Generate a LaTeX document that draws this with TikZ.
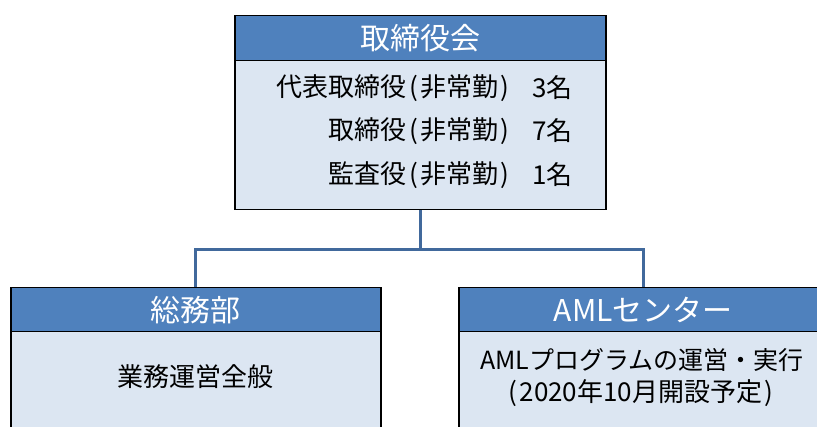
\documentclass[tikz,border=0pt]{standalone}
\usepackage{fontspec}
\setmainfont{Noto Sans CJK JP}
\definecolor{headblue}{HTML}{4F81BD}
\definecolor{bodyblue}{HTML}{DCE6F2}
\definecolor{linkblue}{HTML}{41699C}
\newcommand{\lp}{\hspace{3pt}(\hspace{2pt}}
\newcommand{\rp}{\hspace{2pt})}
\begin{document}
\begin{tikzpicture}[x=1pt,y=-1pt,
  head/.style={draw=black,line width=1.5pt,fill=headblue,text=white,inner sep=0pt,
    minimum height=#1,font=\fontsize{30}{34}\selectfont},
  body/.style={draw=black,line width=1.5pt,fill=bodyblue,inner sep=0pt},
  txt/.style={inner sep=0pt,font=\fontsize{26}{30}\selectfont},
  link/.style={draw=linkblue,line width=3pt}]
\useasboundingbox (0,0) rectangle (817,427);
\clip (0,0) rectangle (817,427);
% top box
\node[body,minimum width=371pt,minimum height=149pt,anchor=north west] (topbody) at (234,60) {};
\node[head=45pt,minimum width=371pt,anchor=north west] (tophead) at (234,15) {取締役会};
\node[txt,anchor=east] (r1a) at (509,88) {代表取締役\lp 非常勤\rp};
\node[txt,anchor=west] (r1b) at (532,88) {3名};
\node[txt,anchor=east] (r2a) at (509,131) {取締役\lp 非常勤\rp};
\node[txt,anchor=west] (r2b) at (532,131) {7名};
\node[txt,anchor=east] (r3a) at (509,175) {監査役\lp 非常勤\rp};
\node[txt,anchor=west] (r3b) at (532,175) {1名};
% left box
\node[body,minimum width=370pt,minimum height=110pt,anchor=north west] (leftbody) at (10,331) {};
\node[head=44pt,minimum width=370pt,anchor=north west] (lefthead) at (10,287) {総務部};
\node[txt] (lefttxt) at (195,377) {業務運営全般};
% right box
\node[body,minimum width=369pt,minimum height=110pt,anchor=north west] (rightbody) at (458,331) {};
\node[head=44pt,minimum width=369pt,anchor=north west] (righthead) at (458,287) {AMLセンター};
\node[txt,font=\fontsize{25}{30}\selectfont] (righttxt1) at (642,360) {AMLプログラムの運営・実行};
\node[txt] (righttxt2) at (641,393) {(\hspace{2pt}2020年10月開設予定\hspace{2pt})};
% connectors
\coordinate (junction) at ([yshift=-39pt]topbody.south);
\draw[link] (topbody.south) -- (junction);
\draw[link] (lefthead.north) |- (junction) -| (righthead.north);
\end{tikzpicture}
\end{document}
